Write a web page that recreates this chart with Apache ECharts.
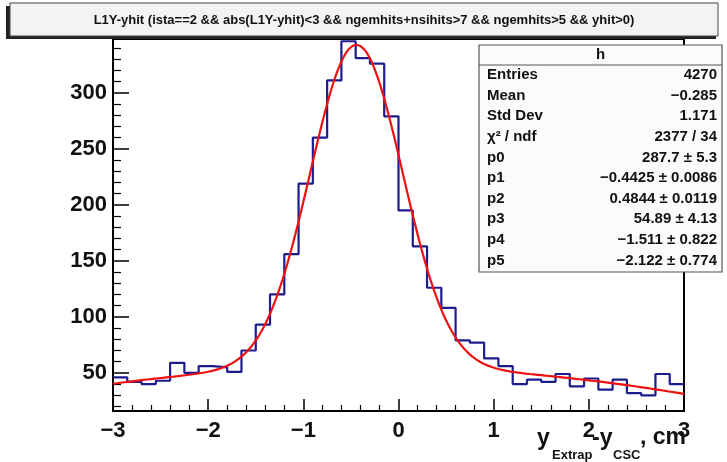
<!DOCTYPE html>
<html>
<head>
<meta charset="utf-8">
<script src="https://cdn.jsdelivr.net/npm/echarts@6/dist/echarts.min.js"></script>
<style>
  html, body { margin: 0; padding: 0; background: #ffffff; }
  #chart { width: 727px; height: 462px; }
</style>
</head>
<body>
<div id="chart"></div>
<script>
// Histogram "h": 40 bins over [-3, 3] of y_Extrap - y_CSC
const histTitle = 'L1Y-yhit (ista==2 && abs(L1Y-yhit)<3 && ngemhits+nsihits>7 && ngemhits>5 && yhit>0)';
const histRange = [-3, 3];
const binCounts = [
  46, 42, 40, 43, 59, 50, 56, 55, 51, 70,
  93, 120, 156, 219, 260, 311, 346, 331, 326, 279,
  195, 163, 126, 108, 79, 77, 63, 56, 40, 44,
  42, 49, 38, 45, 35, 44, 32, 30, 49, 40
];
// Fit: gaus(p0,p1,p2) + pol2(p3,p4,p5)
const fitParams = [287.7, -0.4425, 0.4844, 54.89, -1.511, -2.122];
const statLabels = ['Entries', 'Mean', 'Std Dev', 'χ² / ndf', 'p0', 'p1', 'p2', 'p3', 'p4', 'p5'];
const statValues = ['4270', '\u22120.285', '1.171', '2377 / 34', '287.7 \u00b1 5.3',
  '\u22120.4425 \u00b1 0.0086', '0.4844 \u00b1 0.0119', '54.89 \u00b1 4.13',
  '\u22121.511 \u00b1 0.822', '\u22122.122 \u00b1 0.774'];
const yMajorTicks = [50, 100, 150, 200, 250, 300];
const yMinorTicks = [20, 30, 40, 60, 70, 80, 90, 110, 120, 130, 140, 160, 170, 180, 190,
  210, 220, 230, 240, 260, 270, 280, 290, 310, 320, 330, 340];
const yRange = [16, 348];

const nBins = binCounts.length;
const binWidth = (histRange[1] - histRange[0]) / nBins;
const histPoints = binCounts.map((v, i) => [histRange[0] + i * binWidth, v]);
histPoints.push([histRange[1], binCounts[nBins - 1]]);

function fitFunc(x) {
  const [p0, p1, p2, p3, p4, p5] = fitParams;
  const t = (x - p1) / p2;
  return p0 * Math.exp(-0.5 * t * t) + p3 + p4 * x + p5 * x * x;
}
const fitPoints = [];
const nFit = 300;
for (let k = 0; k <= nFit; k++) {
  const x = histRange[0] + (histRange[1] - histRange[0]) * k / nFit;
  fitPoints.push([x, fitFunc(x)]);
}

const FONT = 'Liberation Sans, Arial, Helvetica, sans-serif';
const minus = v => String(v).replace('-', '\u2212');

// statistics box
const box = { x: 479, y: 45, w: 243, h: 227, rowTop: 75, rowStep: 20.6 };
const statChildren = [
  { type: 'rect', shape: { x: box.x, y: box.y, width: box.w, height: box.h },
    style: { fill: '#fbfbfb', stroke: '#555', lineWidth: 1.2 } },
  { type: 'line', shape: { x1: box.x, y1: box.y + 20, x2: box.x + box.w, y2: box.y + 20 },
    style: { stroke: '#555', lineWidth: 1.2 } },
  { type: 'text', x: box.x + box.w / 2, y: box.y + 10,
    style: { text: 'h', font: 'bold 15px ' + FONT, fill: '#111', align: 'center', verticalAlign: 'middle' } }
];
statLabels.forEach((lab, i) => {
  const yy = box.rowTop + i * box.rowStep;
  statChildren.push({ type: 'text', x: box.x + 8, y: yy,
    style: { text: lab, font: 'bold 15px ' + FONT, fill: '#111', align: 'left', verticalAlign: 'middle' } });
  statChildren.push({ type: 'text', x: box.x + box.w - 5, y: yy,
    style: { text: statValues[i], font: 'bold 15px ' + FONT, fill: '#111', align: 'right', verticalAlign: 'middle' } });
});

const axisTitleParts = [
  { t: 'y', x: 537, y: 450, size: 23 },
  { t: 'Extrap', x: 552, y: 462, size: 13 },
  { t: '-y', x: 592, y: 450, size: 23 },
  { t: 'CSC', x: 613, y: 462, size: 13 },
  { t: ', cm', x: 640, y: 449, size: 23 }
];

const chart = echarts.init(document.getElementById('chart'), null, { renderer: 'canvas' });
chart.setOption({
  animation: false,
  backgroundColor: '#ffffff',
  grid: { left: 113, top: 39, width: 571, height: 372, show: true,
    borderColor: '#000', borderWidth: 2, backgroundColor: 'transparent' },
  xAxis: {
    type: 'value', min: histRange[0], max: histRange[1], interval: 1,
    axisLine: { show: true, onZero: false, lineStyle: { color: '#000', width: 2 } },
    axisTick: { show: true, inside: true, length: 12, lineStyle: { color: '#000', width: 1.5 } },
    minorTick: { show: true, splitNumber: 5, length: 6, lineStyle: { color: '#000', width: 1.2 } },
    splitLine: { show: false },
    axisLabel: { margin: 9, color: '#111', fontSize: 22, fontWeight: 'bold', fontFamily: FONT,
      formatter: v => minus(v) }
  },
  yAxis: [
    {
      type: 'value', min: yRange[0], max: yRange[1], position: 'left',
      axisLine: { show: true, onZero: false, lineStyle: { color: '#000', width: 2 } },
      axisTick: { show: true, inside: true, length: 16, customValues: yMajorTicks,
        lineStyle: { color: '#000', width: 1.5 } },
      splitLine: { show: false },
      axisLabel: { margin: 6, color: '#111', fontSize: 22, fontWeight: 'bold', fontFamily: FONT,
        customValues: yMajorTicks }
    },
    {
      type: 'value', min: yRange[0], max: yRange[1], position: 'left',
      axisLine: { show: false, onZero: false },
      axisTick: { show: true, inside: true, length: 8, customValues: yMinorTicks,
        lineStyle: { color: '#000', width: 1.2 } },
      splitLine: { show: false },
      axisLabel: { show: false }
    }
  ],
  series: [
    {
      type: 'line', step: 'end', data: histPoints, symbol: 'none',
      lineStyle: { color: '#1c1c8e', width: 2.2 }, z: 3
    },
    {
      type: 'line', data: fitPoints, symbol: 'none', smooth: false,
      lineStyle: { color: '#ee1111', width: 2.2 }, z: 4
    }
  ],
  graphic: [
    // title pave with shadow
    { type: 'rect', shape: { x: 6, y: 6, width: 710, height: 33 }, style: { fill: '#222' }, z: 100 },
    { type: 'rect', shape: { x: 10, y: 3, width: 708, height: 33 },
      style: { fill: '#f3f3f3', stroke: '#444', lineWidth: 1 }, z: 101 },
    { type: 'text', x: 364, y: 20, z: 102,
      style: { text: histTitle, font: 'bold 13px ' + FONT, fill: '#111', align: 'center', verticalAlign: 'middle' } },
    { type: 'group', z: 100, children: statChildren },
    { type: 'group', z: 100, children: axisTitleParts.map(p => ({
      type: 'text', x: p.x, y: p.y,
      style: { text: p.t, font: 'bold ' + p.size + 'px ' + FONT, fill: '#111', align: 'left', verticalAlign: 'bottom' }
    })) }
  ]
});
</script>
</body>
</html>
